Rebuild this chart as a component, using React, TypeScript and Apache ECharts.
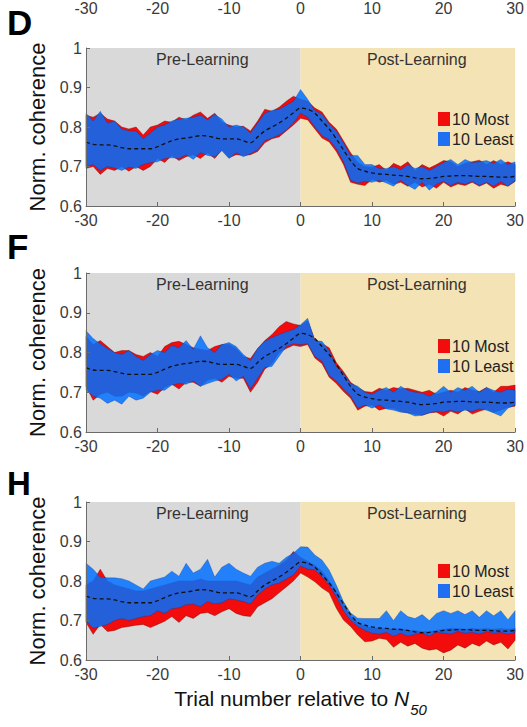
import React, { useEffect, useRef } from "react";
import * as echarts from "echarts";

const TRIALS = Array.from({ length: 61 }, (_, i) => i - 30);
const X_MIN = -30;
const X_MAX = 30;
const Y_MIN = 0.6;
const Y_MAX = 1;
const PANEL_LETTERS = ["D", "F", "H"];
const PHASES = ["Pre-Learning", "Post-Learning"];
const GROUPS = ["10 Most", "10 Least"];
const X_TITLE = "Trial number relative to ";
const Y_TITLE = "Norm. coherence";

// dashed mean trajectory
const MEAN = [
  0.762, 0.756, 0.755, 0.755, 0.752, 0.748, 0.745, 0.745, 0.745, 0.745,
  0.75, 0.758, 0.765, 0.77, 0.772, 0.775, 0.778, 0.777, 0.773, 0.77,
  0.77, 0.77, 0.765, 0.76, 0.775, 0.79, 0.8, 0.81, 0.822, 0.836,
  0.848, 0.845, 0.835, 0.815, 0.795, 0.77, 0.742, 0.715, 0.695, 0.688,
  0.684, 0.681, 0.68, 0.678, 0.677, 0.675, 0.671, 0.669, 0.67, 0.672,
  0.675, 0.676, 0.677, 0.677, 0.676, 0.675, 0.675, 0.674, 0.673, 0.673,
  0.675,
];

// Panel D
const D_RED_HI = [
  0.83, 0.825, 0.835, 0.82, 0.815, 0.8, 0.795, 0.8, 0.78, 0.8,
  0.805, 0.815, 0.812, 0.825, 0.818, 0.83, 0.838, 0.822, 0.835, 0.812,
  0.805, 0.8, 0.802, 0.79, 0.815, 0.845, 0.84, 0.85, 0.865, 0.878,
  0.87, 0.865, 0.848, 0.838, 0.812, 0.795, 0.765, 0.735, 0.71, 0.7,
  0.698, 0.705, 0.69, 0.708, 0.7, 0.712, 0.69, 0.705, 0.696, 0.705,
  0.715, 0.712, 0.7, 0.708, 0.712, 0.716, 0.705, 0.715, 0.705, 0.712,
  0.705,
];
const D_RED_LO = [
  0.695, 0.7, 0.68, 0.695, 0.69, 0.7, 0.688, 0.7, 0.69, 0.7,
  0.72, 0.71, 0.728, 0.715, 0.725, 0.73, 0.72, 0.735, 0.72, 0.742,
  0.722, 0.73, 0.728, 0.73, 0.738, 0.76, 0.77, 0.775, 0.79, 0.805,
  0.822, 0.818, 0.795, 0.772, 0.762, 0.738, 0.705, 0.66, 0.655, 0.652,
  0.668, 0.66, 0.665, 0.655, 0.66, 0.65, 0.66, 0.648, 0.655, 0.645,
  0.66, 0.648, 0.656, 0.652, 0.66, 0.65, 0.658, 0.645, 0.655, 0.65,
  0.662,
];
const D_BLUE_HI = [
  0.835, 0.815, 0.84, 0.81, 0.815, 0.795, 0.79, 0.79, 0.77, 0.785,
  0.8, 0.805, 0.815, 0.82, 0.822, 0.825, 0.83, 0.818, 0.832, 0.82,
  0.8, 0.805, 0.8, 0.785, 0.81, 0.835, 0.842, 0.845, 0.855, 0.865,
  0.895, 0.87, 0.842, 0.832, 0.808, 0.79, 0.76, 0.728, 0.728, 0.705,
  0.705, 0.695, 0.695, 0.7, 0.692, 0.705, 0.695, 0.7, 0.69, 0.7,
  0.71, 0.718, 0.705, 0.718, 0.71, 0.712, 0.715, 0.708, 0.718, 0.705,
  0.712,
];
const D_BLUE_LO = [
  0.7, 0.705, 0.69, 0.7, 0.696, 0.69, 0.698, 0.695, 0.705, 0.71,
  0.712, 0.72, 0.722, 0.72, 0.73, 0.718, 0.735, 0.728, 0.725, 0.74,
  0.72, 0.735, 0.725, 0.732, 0.742, 0.765, 0.772, 0.78, 0.792, 0.81,
  0.835, 0.825, 0.8, 0.778, 0.768, 0.745, 0.712, 0.665, 0.658, 0.662,
  0.66, 0.665, 0.658, 0.65, 0.665, 0.652, 0.642, 0.66, 0.64, 0.655,
  0.662, 0.652, 0.66, 0.655, 0.662, 0.652, 0.66, 0.65, 0.662, 0.65,
  0.664,
];

// Panel F
const F_RED_HI = [
  0.84, 0.82, 0.83, 0.815, 0.8, 0.805, 0.805, 0.795, 0.79, 0.8,
  0.79, 0.815, 0.825, 0.828, 0.82, 0.812, 0.808, 0.805, 0.815, 0.82,
  0.82, 0.81, 0.79, 0.785, 0.81, 0.83, 0.845, 0.865, 0.878, 0.872,
  0.868, 0.88, 0.832, 0.822, 0.812, 0.775, 0.752, 0.725, 0.712, 0.702,
  0.7, 0.71, 0.705, 0.712, 0.708, 0.71, 0.705, 0.7, 0.705, 0.695,
  0.7, 0.705, 0.7, 0.712, 0.705, 0.702, 0.712, 0.7, 0.715, 0.715,
  0.718,
];
const F_RED_LO = [
  0.715, 0.68, 0.695, 0.7, 0.69, 0.69, 0.7, 0.698, 0.69, 0.702,
  0.695, 0.712, 0.72, 0.708, 0.725, 0.725, 0.715, 0.73, 0.735, 0.725,
  0.74, 0.735, 0.735, 0.7, 0.725, 0.758, 0.772, 0.8, 0.81, 0.818,
  0.815, 0.82, 0.786, 0.772, 0.738, 0.722, 0.702, 0.685, 0.655, 0.665,
  0.668, 0.655, 0.66, 0.66, 0.652, 0.648, 0.645, 0.642, 0.648, 0.65,
  0.64, 0.652, 0.645, 0.658, 0.645, 0.652, 0.658, 0.65, 0.655, 0.662,
  0.665,
];
const F_BLUE_HI = [
  0.855, 0.835, 0.822, 0.81, 0.8, 0.795, 0.805, 0.79, 0.78, 0.795,
  0.805, 0.8, 0.818, 0.812, 0.83, 0.808, 0.842, 0.812, 0.8, 0.82,
  0.825, 0.815, 0.795, 0.78, 0.81, 0.828, 0.838, 0.845, 0.852, 0.858,
  0.87, 0.886, 0.83, 0.828, 0.805, 0.765, 0.748, 0.722, 0.715, 0.7,
  0.695, 0.705, 0.712, 0.7, 0.715, 0.705, 0.7, 0.698, 0.69, 0.7,
  0.715, 0.7, 0.712, 0.705, 0.715, 0.7, 0.712, 0.705, 0.7, 0.708,
  0.705,
];
const F_BLUE_LO = [
  0.705, 0.69, 0.685, 0.672, 0.68, 0.67, 0.69, 0.68, 0.685, 0.7,
  0.705, 0.705, 0.718, 0.722, 0.72, 0.728, 0.715, 0.722, 0.728, 0.732,
  0.745, 0.728, 0.74, 0.708, 0.735, 0.762, 0.765, 0.79, 0.815, 0.822,
  0.82, 0.822, 0.79, 0.778, 0.742, 0.728, 0.708, 0.69, 0.66, 0.668,
  0.66, 0.668, 0.658, 0.655, 0.65, 0.648, 0.64, 0.642, 0.648, 0.652,
  0.65, 0.655, 0.65, 0.655, 0.652, 0.658, 0.655, 0.648, 0.64, 0.66,
  0.668,
];

// Panel H
const H_RED_HI = [
  0.79, 0.8, 0.83, 0.8, 0.79, 0.785, 0.78, 0.775, 0.775, 0.78,
  0.785, 0.79, 0.795, 0.8, 0.8, 0.8, 0.805, 0.8, 0.8, 0.8,
  0.8, 0.8, 0.795, 0.79, 0.81, 0.82, 0.83, 0.84, 0.852, 0.875,
  0.86, 0.85, 0.84, 0.825, 0.8, 0.775, 0.74, 0.71, 0.695, 0.685,
  0.682, 0.68, 0.68, 0.678, 0.68, 0.675, 0.675, 0.672, 0.672, 0.675,
  0.678, 0.68, 0.68, 0.678, 0.68, 0.678, 0.68, 0.678, 0.68, 0.678,
  0.68,
];
const H_RED_LO = [
  0.695, 0.665, 0.69, 0.672, 0.675, 0.682, 0.685, 0.688, 0.69, 0.682,
  0.69, 0.698, 0.71, 0.695, 0.712, 0.705, 0.718, 0.72, 0.712, 0.722,
  0.73, 0.718, 0.712, 0.71, 0.735, 0.745, 0.755, 0.77, 0.785, 0.8,
  0.82, 0.81, 0.798, 0.782, 0.77, 0.731, 0.701, 0.685, 0.663, 0.646,
  0.648, 0.655, 0.652, 0.632, 0.645, 0.635, 0.642, 0.63, 0.625, 0.628,
  0.618, 0.625, 0.638, 0.63, 0.642, 0.635, 0.648, 0.638, 0.645, 0.628,
  0.65,
];
const H_BLUE_HI = [
  0.845, 0.83, 0.81, 0.808, 0.808, 0.806, 0.8, 0.79, 0.78, 0.8,
  0.805, 0.81, 0.825, 0.812, 0.845, 0.82, 0.83, 0.855, 0.81, 0.835,
  0.845, 0.83, 0.82, 0.812, 0.835, 0.845, 0.85, 0.845, 0.86, 0.87,
  0.887, 0.886, 0.866, 0.853, 0.828, 0.79, 0.748, 0.719, 0.706, 0.705,
  0.705, 0.705, 0.725, 0.7, 0.725, 0.71, 0.705, 0.715, 0.7, 0.718,
  0.725, 0.718, 0.725, 0.715, 0.725, 0.708, 0.725, 0.712, 0.725, 0.702,
  0.725,
];
const H_BLUE_LO = [
  0.7, 0.68, 0.685, 0.69, 0.7, 0.705, 0.7, 0.705, 0.71, 0.712,
  0.725, 0.718, 0.73, 0.732, 0.74, 0.742, 0.735, 0.748, 0.742, 0.745,
  0.755, 0.752, 0.748, 0.742, 0.765, 0.78, 0.79, 0.795, 0.805, 0.815,
  0.838, 0.83, 0.828, 0.81, 0.79, 0.76, 0.725, 0.7, 0.685, 0.675,
  0.668, 0.665, 0.67, 0.66, 0.668, 0.66, 0.665, 0.668, 0.66, 0.67,
  0.668, 0.665, 0.672, 0.668, 0.67, 0.665, 0.672, 0.668, 0.67, 0.665,
  0.67,
];

const FONT = "'Liberation Sans', Arial, sans-serif";
const RED = "#f20c0c";
const BLUE = "rgb(0,112,255)";
const LEGEND_BLUE = "#1f6ff2";
const GRAY_BG = "#d9d9d9";
const YELLOW_BG = "#f4e3b4";
const AXIS_COLOR = "#6b6b6b";
const LABEL_COLOR = "#3a3a3a";

const PANELS = [
  { letter: PANEL_LETTERS[0], redHi: D_RED_HI, redLo: D_RED_LO, blueHi: D_BLUE_HI, blueLo: D_BLUE_LO },
  { letter: PANEL_LETTERS[1], redHi: F_RED_HI, redLo: F_RED_LO, blueHi: F_BLUE_HI, blueLo: F_BLUE_LO },
  { letter: PANEL_LETTERS[2], redHi: H_RED_HI, redLo: H_RED_LO, blueHi: H_BLUE_HI, blueLo: H_BLUE_LO },
];
const LAYOUT = [
  { top: 48, height: 158, legendTop: 106, letterTop: 5, letterSize: 35 },
  { top: 273, height: 159, legendTop: 333, letterTop: 229, letterSize: 35 },
  { top: 502, height: 158, legendTop: 558, letterTop: 467, letterSize: 33 },
];

// band polygon drawn once, from all rows of the series, through the axes' scales
function bandRenderer(fill: string, opacity: number, edge: string) {
  return (params: any, api: any) => {
    if (params.dataIndexInside !== 0) return null;
    const n = params.dataInsideLength;
    const upper: number[][] = [];
    const lower: number[][] = [];
    for (let k = 0; k < n; k++) {
      const x = api.value(0, k);
      upper.push(api.coord([x, api.value(2, k)]));
      lower.push(api.coord([x, api.value(1, k)]));
    }
    const points = upper.concat(lower.reverse());
    return {
      type: "polygon",
      shape: { points },
      style: { fill, opacity, stroke: edge, lineWidth: 0.6 },
      silent: true,
    };
  };
}

function buildOption() {
  const grids: any[] = [];
  const xAxes: any[] = [];
  const yAxes: any[] = [];
  const series: any[] = [];
  const legends: any[] = [];
  const graphics: any[] = [];

  PANELS.forEach((p, i) => {
    const L = LAYOUT[i];
    grids.push({ left: 86, right: 10, top: L.top, height: L.height });
    const isLast = i === PANELS.length - 1;
    xAxes.push({
      type: "value",
      gridIndex: i,
      min: X_MIN,
      max: X_MAX,
      interval: 10,
      axisLine: { show: true, onZero: false, lineStyle: { color: AXIS_COLOR, width: 1 } },
      axisTick: { show: true, inside: true, length: 4, lineStyle: { color: AXIS_COLOR } },
      axisLabel: { color: LABEL_COLOR, fontSize: 16, fontFamily: FONT, margin: 6 },
      splitLine: { show: false },
      z: 5,
      name: isLast ? `{a|${X_TITLE}}{n|N}{s|50}` : "",
      nameLocation: "middle",
      nameGap: 34,
      nameTextStyle: {
        rich: {
          a: { fontSize: 21, fontFamily: FONT, color: "#111", lineHeight: 23, verticalAlign: "bottom", padding: [0, 0, 8, 0] },
          n: { fontSize: 21, fontFamily: FONT, color: "#111", fontStyle: "italic", lineHeight: 23, verticalAlign: "bottom", padding: [0, 0, 8, 0] },
          s: { fontSize: 15, fontFamily: FONT, color: "#111", fontStyle: "italic", lineHeight: 16, verticalAlign: "bottom", padding: [0, 0, 0, 1] },
        },
      },
    });
    yAxes.push({
      type: "value",
      gridIndex: i,
      min: Y_MIN,
      max: Y_MAX,
      interval: 0.1,
      axisLine: { show: true, onZero: false, lineStyle: { color: AXIS_COLOR, width: 1 } },
      axisTick: { show: true, inside: true, length: 4, lineStyle: { color: AXIS_COLOR } },
      axisLabel: { color: LABEL_COLOR, fontSize: 16, fontFamily: FONT, margin: 4 },
      splitLine: { show: false },
      z: 5,
      name: Y_TITLE,
      nameLocation: "middle",
      nameGap: 32,
      nameTextStyle: { fontSize: 22, fontFamily: FONT, color: "#111" },
    });

    const pts = (arr: number[]) => TRIALS.map((t, k) => [t, arr[k]]);
    const band = (lo: number[], hi: number[]) => TRIALS.map((t, k) => [t, lo[k], hi[k]]);

    // background phases
    series.push({
      type: "line",
      name: `phase${i}`,
      xAxisIndex: i,
      yAxisIndex: i,
      data: pts(MEAN),
      symbol: "none",
      silent: true,
      z: 1,
      lineStyle: { opacity: 0 },
      markArea: {
        silent: true,
        label: { show: true, position: "insideTop", distance: 3, offset: [9, 0], color: "#333", fontSize: 16, fontFamily: FONT },
        data: [
          [{ xAxis: X_MIN, name: PHASES[0], itemStyle: { color: GRAY_BG } }, { xAxis: 0 }],
          [{ xAxis: 0, name: PHASES[1], itemStyle: { color: YELLOW_BG } }, { xAxis: X_MAX }],
        ],
      },
    });
    series.push({
      type: "custom",
      name: GROUPS[0],
      xAxisIndex: i,
      yAxisIndex: i,
      data: band(p.redLo, p.redHi),
      encode: { x: 0, y: [1, 2] },
      itemStyle: { color: RED },
      renderItem: bandRenderer(RED, 1, "rgba(90,0,0,0.6)"),
      z: 2,
      silent: true,
    });
    series.push({
      type: "custom",
      name: GROUPS[1],
      xAxisIndex: i,
      yAxisIndex: i,
      data: band(p.blueLo, p.blueHi),
      encode: { x: 0, y: [1, 2] },
      itemStyle: { color: LEGEND_BLUE },
      renderItem: bandRenderer(BLUE, 0.85, "rgba(0,30,120,0.5)"),
      z: 3,
      silent: true,
    });
    series.push({
      type: "line",
      name: `mean${i}`,
      xAxisIndex: i,
      yAxisIndex: i,
      data: pts(MEAN),
      symbol: "none",
      smooth: 0.3,
      silent: true,
      z: 4,
      lineStyle: { width: 1.3, color: "#111", type: [4, 3] },
    });

    legends.push({
      top: L.legendTop,
      left: 433,
      orient: "vertical",
      icon: "rect",
      itemWidth: 12,
      itemHeight: 14,
      itemGap: 4,
      selectedMode: false,
      textStyle: { fontSize: 16, fontFamily: FONT, color: "#222", padding: [0, 0, 0, -3] },
      data: [
        { name: GROUPS[0], itemStyle: { color: RED } },
        { name: GROUPS[1], itemStyle: { color: LEGEND_BLUE } },
      ],
    });

    graphics.push({
      type: "text",
      left: 7,
      top: L.letterTop,
      style: { text: p.letter, fontSize: L.letterSize, fontWeight: "bold", fontFamily: FONT, fill: "#000" },
    });
  });

  // tick labels of the panel above, visible at the top edge
  grids.push({ left: 86, right: 10, top: -11, height: 4 });
  xAxes.push({
    type: "value",
    gridIndex: 3,
    min: X_MIN,
    max: X_MAX,
    interval: 10,
    axisLine: { show: false },
    axisTick: { show: false },
    splitLine: { show: false },
    axisLabel: { color: LABEL_COLOR, fontSize: 16, fontFamily: FONT, margin: 6 },
  });
  yAxes.push({ type: "value", gridIndex: 3, show: false, min: 0, max: 1 });

  return {
    animation: false,
    backgroundColor: "#ffffff",
    grid: grids,
    xAxis: xAxes,
    yAxis: yAxes,
    legend: legends,
    series,
    graphic: graphics,
  };
}

export default function App() {
  const ref = useRef<HTMLDivElement>(null);
  useEffect(() => {
    if (!ref.current) return;
    const chart = echarts.init(ref.current, null, { renderer: "svg" });
    chart.setOption(buildOption() as any);
    return () => chart.dispose();
  }, []);
  return (
    <div
      ref={ref}
      style={{ position: "fixed", left: 0, top: 0, width: 527, height: 727, background: "#fff" }}
    />
  );
}
